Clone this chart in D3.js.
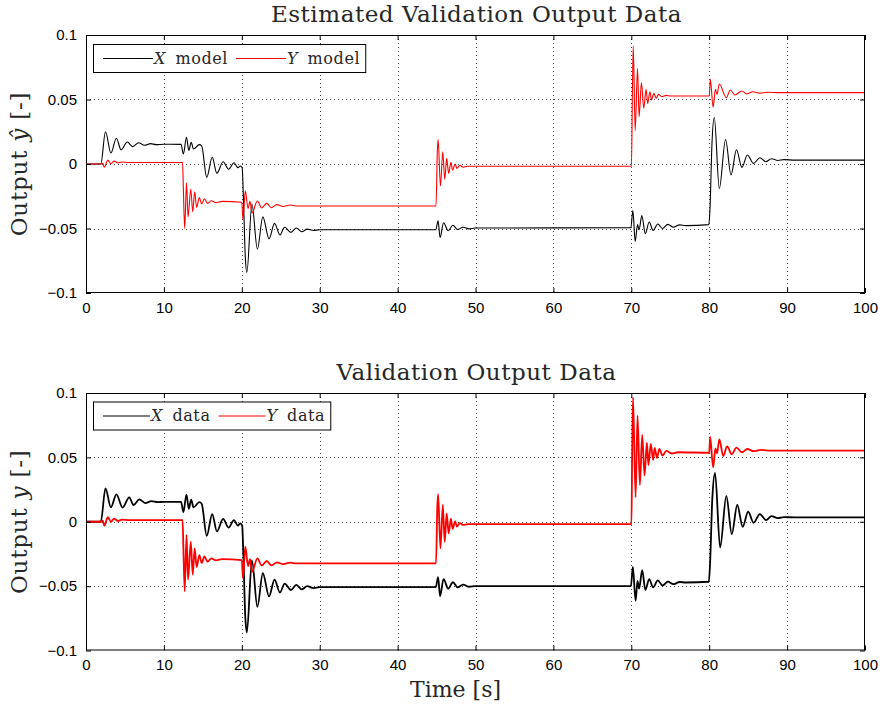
<!DOCTYPE html>
<html>
<head>
<meta charset="utf-8">
<script src="https://cdn.jsdelivr.net/npm/d3@7/dist/d3.min.js"></script>
<style>
  html, body { margin: 0; padding: 0; background: #fff; }
  svg { display: block; }
</style>
</head>
<body>
<svg id="chart" width="886" height="710"></svg>
<script>
// ---------------- DATA ----------------
const xTicks = [0, 10, 20, 30, 40, 50, 60, 70, 80, 90, 100];
const yTicks = [-0.1, -0.05, 0, 0.05, 0.1];
const yTickLabels = ["\u22120.1", "\u22120.05", "0", "0.05", "0.1"];

const titles = ["Estimated Validation Output Data", "Validation Output Data"];
const legendLabels = [["model", "model"], ["data", "data"]];

// [time s, output]
const xModel = [
  [0,0],[1.9,0],[2.5,0.025],[3.2,0.0085],[3.9,0.020],[4.5,0.011],[5.3,0.017],[6.0,0.0135],
  [6.75,0.0165],[7.5,0.0145],[8.3,0.0158],[9.0,0.0150],[10,0.0153],[12.2,0.0152],[12.5,0.0078],
  [12.9,0.0207],[13.2,0.0105],[13.5,0.0168],[13.8,0.0116],[14.55,0.0150],[14.85,0.0140],
  [15.5,-0.0103],[16.2,0.0052],[16.8,-0.0072],[17.6,0.0018],[18.3,-0.0041],[19.0,0.0010],
  [19.5,-0.0028],[19.8,-0.0015],[20.05,-0.003],[20.2,-0.025],[20.45,-0.072],[20.65,-0.084],
  [21.3,-0.031],[22.0,-0.066],[22.7,-0.041],[23.5,-0.058],[24.2,-0.046],[24.9,-0.055],
  [25.5,-0.049],[26.3,-0.053],[27.0,-0.0496],[27.7,-0.0525],[28.4,-0.0505],[29.2,-0.0515],
  [30,-0.0510],[44.9,-0.0510],[45.2,-0.044],[45.45,-0.057],[45.9,-0.0455],[46.5,-0.0517],
  [47.1,-0.0475],[47.7,-0.0508],[48.4,-0.0490],[49.2,-0.0503],[50,-0.0496],[69.95,-0.0494],
  [70.2,-0.036],[70.5,-0.060],[70.8,-0.047],[71.0,-0.051],[71.35,-0.040],[71.8,-0.054],
  [72.3,-0.045],[72.8,-0.0515],[73.4,-0.0465],[74.0,-0.0500],[74.7,-0.0468],[75.4,-0.0490],
  [76.2,-0.0472],[77.0,-0.0478],[79.95,-0.0470],[80.1,-0.035],[80.35,0.015],[80.65,0.036],
  [81.3,-0.019],[82.1,0.019],[82.8,-0.0085],[83.5,0.011],[84.2,-0.0026],[84.9,0.007],
  [85.7,0.0005],[86.5,0.0049],[87.25,0.0018],[88.0,0.0041],[88.8,0.0027],[89.6,0.0034],
  [91,0.0030],[100,0.0030]
];
const yModel = [
  [0,0],[1.9,0],[2.15,0.0005],[2.35,-0.0025],[2.8,0.003],[3.2,0.0002],[3.6,0.0022],[4.1,0.0008],
  [4.6,0.0015],[5.5,0.0012],[12.4,0.0012],[12.5,-0.02],[12.67,-0.050],[12.9,-0.0145],
  [13.1,-0.041],[13.45,-0.0194],[13.7,-0.037],[13.95,-0.0215],[14.2,-0.0336],[14.55,-0.026],
  [14.85,-0.031],[15.2,-0.027],[15.6,-0.0305],[16.1,-0.0285],[16.7,-0.030],[17.5,-0.029],
  [20.0,-0.0297],[20.15,-0.043],[20.45,-0.0207],[20.8,-0.0344],[21.05,-0.029],[21.3,-0.038],
  [22.0,-0.0287],[22.55,-0.034],[23.2,-0.0305],[23.8,-0.0339],[24.5,-0.0315],[25.3,-0.0330],
  [26.2,-0.0318],[27,-0.0325],[44.93,-0.0325],[45.1,0.010],[45.2,0.019],[45.5,-0.017],
  [45.8,0.0095],[46.05,-0.0119],[46.3,0.0044],[46.55,-0.0072],[46.85,0.0013],[47.05,-0.0047],
  [47.4,0.0],[47.6,-0.0034],[48.0,-0.0010],[48.4,-0.0025],[49.0,-0.0018],[70.02,-0.0018],
  [70.15,0.060],[70.25,0.0915],[70.5,0.0258],[70.8,0.0742],[71.0,0.0367],[71.3,0.063],
  [71.6,0.0432],[71.9,0.058],[72.1,0.047],[72.4,0.056],[72.6,0.0496],[72.9,0.0548],[73.2,0.051],
  [73.5,0.054],[73.9,0.0522],[74.5,0.0532],[75,0.0527],[80.0,0.0527],[80.15,0.0657],[80.5,0.044],
  [80.8,0.058],[81.0,0.054],[81.3,0.062],[82.2,0.0514],[82.7,0.0574],[83.3,0.0535],[84.2,0.0566],
  [84.8,0.0543],[85.6,0.056],[86.5,0.0549],[87.5,0.0556],[89,0.0553],[100,0.0553]
];
const xData = [
  [0,0],[1.9,0],[2.5,0.026],[3.2,0.0112],[3.9,0.0213],[4.7,0.011],[5.55,0.019],[6.1,0.013],
  [6.85,0.0174],[7.6,0.0145],[8.4,0.0160],[9.2,0.0152],[10,0.0155],[12.2,0.0155],[12.5,0.0075],
  [12.9,0.021],[13.2,0.010],[13.5,0.0172],[13.8,0.0112],[14.55,0.0152],[14.85,0.0140],
  [15.5,-0.0110],[16.2,0.0060],[16.8,-0.0075],[17.6,0.0022],[18.3,-0.0045],[19.0,0.0012],
  [19.5,-0.0030],[19.8,-0.0012],[20.05,-0.003],[20.2,-0.026],[20.45,-0.074],[20.65,-0.086],
  [21.3,-0.030],[22.0,-0.066],[22.7,-0.040],[23.5,-0.058],[24.2,-0.045],[24.9,-0.055],
  [25.5,-0.048],[26.3,-0.053],[27.0,-0.0490],[27.7,-0.0525],[28.4,-0.0500],[29.2,-0.0515],
  [30,-0.0508],[44.9,-0.0508],[45.2,-0.043],[45.45,-0.0577],[45.9,-0.0445],[46.5,-0.0520],
  [47.1,-0.0470],[47.7,-0.0510],[48.4,-0.0488],[49.2,-0.0505],[50,-0.0500],[69.95,-0.0500],
  [70.2,-0.035],[70.55,-0.0614],[70.8,-0.046],[71.0,-0.052],[71.4,-0.0375],[71.8,-0.053],
  [72.3,-0.0445],[72.8,-0.0510],[73.4,-0.0455],[74.0,-0.0495],[74.7,-0.0465],[75.4,-0.0485],
  [76.2,-0.0468],[77.0,-0.0472],[79.95,-0.0466],[80.1,-0.034],[80.4,0.018],[80.75,0.038],
  [81.4,-0.020],[82.2,0.020],[82.9,-0.0096],[83.6,0.013],[84.3,-0.0039],[85.0,0.0078],
  [85.7,-0.0008],[86.5,0.0060],[87.3,0.0013],[88.0,0.0044],[88.8,0.0028],[89.6,0.0036],
  [91,0.0034],[100,0.0034]
];
const yData = [
  [0,0],[1.9,0],[2.15,0.0008],[2.35,-0.0030],[2.8,0.0035],[3.2,0.0],[3.6,0.0025],[4.1,0.0006],
  [4.6,0.0016],[5.5,0.0012],[12.4,0.0012],[12.5,-0.02],[12.67,-0.054],[12.9,-0.0103],
  [13.1,-0.045],[13.45,-0.0155],[13.7,-0.041],[13.95,-0.0207],[14.2,-0.035],[14.55,-0.026],
  [14.85,-0.032],[15.2,-0.027],[15.6,-0.0310],[16.1,-0.0285],[16.7,-0.030],[17.5,-0.029],
  [20.0,-0.0298],[20.15,-0.044],[20.45,-0.0194],[20.8,-0.0344],[21.05,-0.029],[21.3,-0.039],
  [22.0,-0.0285],[22.55,-0.034],[23.2,-0.0305],[23.8,-0.0339],[24.5,-0.0315],[25.3,-0.0330],
  [26.2,-0.0318],[27,-0.0324],[44.93,-0.0324],[45.1,0.012],[45.2,0.0215],[45.5,-0.0207],
  [45.8,0.013],[46.05,-0.0155],[46.3,0.0064],[46.55,-0.0090],[46.85,0.0025],[47.05,-0.0055],
  [47.4,0.0005],[47.6,-0.0038],[48.0,-0.0010],[48.4,-0.0025],[49.0,-0.0018],[70.02,-0.0018],
  [70.12,0.060],[70.22,0.0966],[70.55,0.019],[70.8,0.0825],[71.1,0.0285],[71.4,0.0675],
  [71.7,0.036],[72.0,0.0615],[72.2,0.044],[72.5,0.0605],[72.8,0.048],[73.0,0.0574],[73.3,0.0495],
  [73.6,0.0566],[74.0,0.0515],[74.5,0.0550],[75.2,0.0530],[76,0.0540],[80.0,0.0536],
  [80.12,0.066],[80.5,0.0423],[80.8,0.057],[81.0,0.053],[81.3,0.064],[81.8,0.051],[82.3,0.0585],
  [82.9,0.0525],[83.5,0.0575],[84.2,0.0540],[84.9,0.0565],[85.7,0.0548],[86.6,0.0558],
  [88,0.0552],[100,0.0552]
];

// ---------------- LAYOUT ----------------
const svg = d3.select("#chart");
const X0 = 86, X1 = 865;
const panels = [
  { top: 35, bottom: 293, title: titles[0], hat: true, legend: legendLabels[0],
    series: [xModel, yModel], lw: 1.1, legendPos: [93, 44], lineLen: 50 },
  { top: 393, bottom: 650.5, title: titles[1], hat: false, legend: legendLabels[1],
    series: [xData, yData], lw: 1.8, legendPos: [93, 401.5], lineLen: 47 }
];
const colors = ["#000000", "#ff0000"];
const serif = "'DejaVu Serif', serif";
const sans = "'Liberation Sans', Arial, sans-serif";
const textCol = "#262626";

const x = d3.scaleLinear().domain([0, 100]).range([X0, X1]);

panels.forEach((p, i) => {
  const y = d3.scaleLinear().domain([-0.1, 0.1]).range([p.bottom, p.top]);
  const g = svg.append("g");

  // grid (dotted)
  g.append("g").selectAll("line").data(xTicks.slice(1, -1)).join("line")
    .attr("x1", d => Math.round(x(d)) + 0.5).attr("x2", d => Math.round(x(d)) + 0.5)
    .attr("y1", p.top).attr("y2", p.bottom)
    .attr("stroke", "#444").attr("stroke-width", 1).attr("stroke-dasharray", "1,3");
  g.append("g").selectAll("line").data(yTicks.slice(1, -1)).join("line")
    .attr("x1", X0).attr("x2", X1)
    .attr("y1", d => Math.round(y(d)) + 0.5).attr("y2", d => Math.round(y(d)) + 0.5)
    .attr("stroke", "#444").attr("stroke-width", 1).attr("stroke-dasharray", "1,3");

  // clip
  const clipId = "clip" + i;
  svg.append("clipPath").attr("id", clipId).append("rect")
    .attr("x", X0).attr("y", p.top).attr("width", X1 - X0).attr("height", p.bottom - p.top);

  const line = d3.line().x(d => x(d[0])).y(d => y(d[1])).curve(d3.curveMonotoneX);
  p.series.forEach((s, k) => {
    g.append("path").datum(s).attr("d", line).attr("fill", "none")
      .attr("stroke", colors[k]).attr("stroke-width", p.lw)
      .attr("stroke-linejoin", "round").attr("clip-path", `url(#${clipId})`);
  });

  // axes with inward ticks on all sides
  const tickLen = 5;
  const axB = d3.axisBottom(x).tickValues(xTicks).tickSizeInner(-tickLen).tickSizeOuter(0).tickPadding(9);
  const axT = d3.axisTop(x).tickValues(xTicks).tickSizeInner(-tickLen).tickSizeOuter(0).tickFormat("");
  const axL = d3.axisLeft(y).tickValues(yTicks).tickSizeInner(-tickLen).tickSizeOuter(0).tickPadding(9)
    .tickFormat((d, j) => yTickLabels[j]);
  const axR = d3.axisRight(y).tickValues(yTicks).tickSizeInner(-tickLen).tickSizeOuter(0).tickFormat("");

  const styleAxis = sel => {
    sel.select(".domain").remove();
    sel.selectAll(".tick line").attr("stroke", "#000").attr("stroke-width", 1);
    sel.selectAll(".tick text").attr("fill", "#000")
      .style("font-family", sans).style("font-size", "15px");
  };
  g.append("g").attr("transform", `translate(0,${p.bottom})`).call(axB).call(styleAxis);
  g.append("g").attr("transform", `translate(0,${p.top})`).call(axT).call(styleAxis);
  g.append("g").attr("transform", `translate(${X0},0)`).call(axL).call(styleAxis);
  g.append("g").attr("transform", `translate(${X1},0)`).call(axR).call(styleAxis);

  // frame
  g.append("rect").attr("x", X0 + 0.5).attr("y", p.top + 0.5)
    .attr("width", X1 - X0 - 1).attr("height", p.bottom - p.top - 1)
    .attr("fill", "none").attr("stroke", "#000").attr("stroke-width", 1);

  // title
  g.append("text").attr("x", (X0 + X1) / 2 + 1).attr("y", p.top - 13)
    .attr("text-anchor", "middle").style("font-family", serif).style("font-size", "23px")
    .style("letter-spacing", "0.55px").attr("fill", textCol).text(p.title);

  // y label
  const yl = g.append("text")
    .attr("transform", `translate(27,${(p.top + p.bottom) / 2}) rotate(-90)`)
    .attr("text-anchor", "middle").style("font-family", serif).style("font-size", "23px")
    .style("letter-spacing", "0.8px").attr("fill", textCol);
  yl.append("tspan").text("Output ");
  yl.append("tspan").style("font-style", "italic").text(p.hat ? "\u0177" : "y");
  yl.append("tspan").text(" [-]");

  // legend
  const [lx, ly] = p.legendPos;
  const lg = g.append("g");
  const box = lg.append("rect").attr("x", lx + 0.5).attr("y", ly + 0.5).attr("height", 28)
    .attr("fill", "#fff").attr("stroke", "#000").attr("stroke-width", 1);
  const names = ["X", "Y"];
  let cx = lx + 10;
  names.forEach((n, k) => {
    lg.append("line").attr("x1", cx).attr("x2", cx + p.lineLen).attr("y1", ly + 14.5).attr("y2", ly + 14.5)
      .attr("stroke", colors[k]).attr("stroke-width", 1);
    const t = lg.append("text").attr("x", cx + p.lineLen + 1).attr("y", ly + 19.5)
      .style("font-family", serif).style("font-size", "16px").attr("fill", textCol);
    t.append("tspan").style("font-style", "italic").text(n);
    t.append("tspan").attr("dx", 10).style("letter-spacing", "0.6px").text(p.legend[k]);
    cx = cx + p.lineLen + 1 + t.node().getComputedTextLength() + 10 + 8;
  });
  box.attr("width", cx - 8 + 5 - lx);
});

// x label
svg.append("text").attr("x", (X0 + X1) / 2 - 20).attr("y", 697)
  .attr("text-anchor", "middle").style("font-family", serif).style("font-size", "22px")
  .attr("fill", textCol).text("Time [s]");
</script>
</body>
</html>
